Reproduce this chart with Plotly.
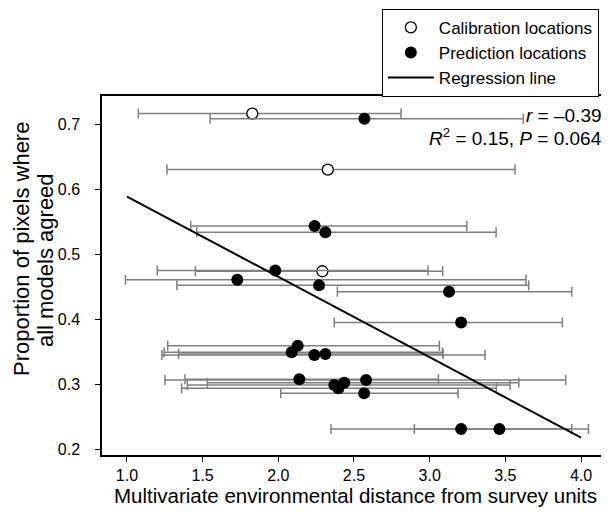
import plotly.graph_objects as go

# ---- data ----
cal_x = [1.828, 2.327, 2.291]
cal_y = [0.716, 0.630, 0.474]
cal_lo = [1.075, 1.264, 1.452]
cal_hi = [2.811, 3.564, 3.086]

pred_x = [2.569, 2.240, 2.311, 1.980, 1.729, 2.269, 3.128, 3.208,
          2.128, 2.088, 2.238, 2.311, 2.139, 2.580, 2.436, 2.370,
          2.397, 2.567, 3.208, 3.461]
pred_y = [0.708, 0.5435, 0.534, 0.475, 0.461, 0.4527, 0.4425, 0.3955,
          0.3597, 0.3496, 0.3455, 0.347, 0.3083, 0.307, 0.303, 0.2995,
          0.2945, 0.2868, 0.232, 0.232]
pred_lo = [1.549, 1.421, 1.461, 1.200, 0.990, 1.330, 2.390, 2.370,
           1.269, 1.245, 1.231, 1.341, 1.383, 1.251, 1.531, 1.399,
           1.361, 2.016, 2.348, 2.899]
pred_hi = [3.619, 3.245, 3.439, 2.989, 3.637, 3.655, 3.939, 3.877,
           3.064, 3.084, 3.366, 3.089, 3.058, 3.899, 3.589, 3.531,
           3.441, 3.188, 3.939, 4.049]

reg_intercept = 0.712
reg_slope = -0.1233
reg_x = [1.0, 4.0]
reg_y = [reg_intercept + reg_slope * v for v in reg_x]

x_ticks = [1.0, 1.5, 2.0, 2.5, 3.0, 3.5, 4.0]
y_ticks = [0.2, 0.3, 0.4, 0.5, 0.6, 0.7]

y_title_lines = ["Proportion of pixels where", "all models agreed"]

FONT = "Liberation Sans, Arial, Helvetica, sans-serif"
ERR_COLOR = "#808080"


def err(x, lo, hi):
    return dict(type="data", symmetric=False,
                array=[h - v for v, h in zip(x, hi)],
                arrayminus=[v - l for v, l in zip(x, lo)],
                color=ERR_COLOR, thickness=1.5, width=5)


fig = go.Figure()
fig.add_trace(go.Scatter(
    x=cal_x, y=cal_y, mode="markers", name="Calibration locations",
    error_x=err(cal_x, cal_lo, cal_hi),
    marker=dict(symbol="circle", size=11, color="white",
                line=dict(color="black", width=1.3)),
))
fig.add_trace(go.Scatter(
    x=pred_x, y=pred_y, mode="markers", name="Prediction locations",
    error_x=err(pred_x, pred_lo, pred_hi),
    marker=dict(symbol="circle", size=12, color="black",
                line=dict(color="black", width=0)),
))
fig.add_trace(go.Scatter(
    x=reg_x, y=reg_y, mode="lines", name="Regression line",
    line=dict(color="black", width=2),
))

# the page body adds an 8px offset, so the figure is 8px smaller
fig.update_layout(
    width=601, height=506,
    margin=dict(l=94, r=0, t=88, b=59, autoexpand=False),
    paper_bgcolor="white", plot_bgcolor="white",
    font=dict(family=FONT, color="black", size=16),
    showlegend=True,
    legend=dict(
        x=0.552, xanchor="left", y=1.243, yanchor="top",
        bgcolor="white", bordercolor="black", borderwidth=1,
        font=dict(family=FONT, size=17, color="black"),
        itemwidth=46, tracegroupgap=0,
    ),
    xaxis=dict(
        range=[0.835, 4.185], tickvals=x_ticks, tickformat=".1f",
        showgrid=False, zeroline=False, automargin=False,
        showline=True, linecolor="black", linewidth=1.5, mirror=True,
        ticks="outside", ticklen=5, tickwidth=1, tickcolor="black",
        tickfont=dict(size=16, family=FONT),
        title=dict(text="Multivariate environmental distance from survey units",
                   font=dict(size=20.5, family=FONT), standoff=6),
    ),
    yaxis=dict(
        range=[0.192, 0.743], tickvals=y_ticks, tickformat=".1f",
        showgrid=False, zeroline=False, automargin=False,
        showline=True, linecolor="black", linewidth=1.5,
        ticks="outside", ticklen=5, tickwidth=1, tickcolor="black",
        tickfont=dict(size=16, family=FONT),
        ticklabelstandoff=12,
    ),
    annotations=[
        dict(text=y_title_lines[0],
             xref="paper", yref="paper", x=-0.1578, y=0.574,
             xanchor="center", yanchor="middle", textangle=-90,
             showarrow=False, font=dict(size=22, family=FONT)),
        dict(text=y_title_lines[1],
             xref="paper", yref="paper", x=-0.1124, y=0.543,
             xanchor="center", yanchor="middle", textangle=-90,
             showarrow=False, font=dict(size=22, family=FONT)),
        dict(text="<i>r</i> = \u20130.39",
             xref="paper", yref="paper", x=0.99, y=0.947,
             xanchor="right", yanchor="middle",
             showarrow=False, font=dict(size=19, family=FONT)),
        dict(text="<i>R</i><sup>2</sup> = 0.15, <i>P</i> = 0.064",
             xref="paper", yref="paper", x=0.99, y=0.886,
             xanchor="right", yanchor="middle",
             showarrow=False, font=dict(size=19, family=FONT)),
    ],
)

fig.write_html("out.html")
